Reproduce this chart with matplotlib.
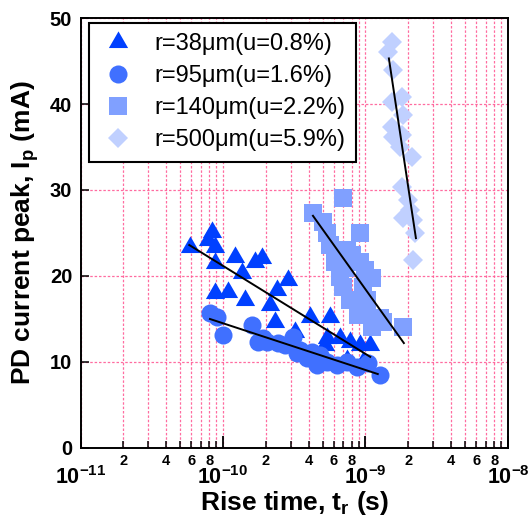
import matplotlib
matplotlib.use('Agg')
import matplotlib.pyplot as plt
import numpy as np
from matplotlib.ticker import FixedLocator, FuncFormatter

plt.rcParams['font.family'] = ['Liberation Sans', 'DejaVu Sans']
plt.rcParams['font.weight'] = 'bold'
plt.rcParams['mathtext.fontset'] = 'custom'
plt.rcParams['mathtext.rm'] = 'Liberation Sans:bold'
plt.rcParams['mathtext.bf'] = 'Liberation Sans:bold'
plt.rcParams['mathtext.it'] = 'Liberation Sans:bold'
plt.rcParams['mathtext.default'] = 'rm'

# ---------------- data ----------------
labels = ['r=38μm(u=0.8%)', 'r=95μm(u=1.6%)', 'r=140μm(u=2.2%)', 'r=500μm(u=5.9%)']
colors = ['#0040ff', '#4070ff', '#80a0ff', '#c0d0ff']

tri_t = [5.87e-11, 8.37e-11, 7.85e-11, 8.79e-11, 8.79e-11, 1.21e-10, 1.36e-10, 1.68e-10,
         1.88e-10, 8.79e-11, 1.08e-10, 1.43e-10, 2.39e-10, 2.86e-10, 2.14e-10, 2.32e-10,
         3.2e-10, 4.08e-10, 5.64e-10, 5.37e-10, 6.62e-10, 7.78e-10, 9.15e-10, 1.08e-9,
         7.41e-10, 9.6e-10, 5.2e-10]
tri_i = [23.4, 25.1, 24.2, 23.4, 21.5, 22.2, 20.3, 21.6,
         22.1, 18.0, 18.1, 17.2, 18.4, 19.5, 16.6, 14.7,
         13.5, 15.2, 15.2, 12.8, 12.8, 12.3, 12.0, 12.0,
         10.2, 10.0, 12.0]

cir_t = [8.1e-11, 9.08e-11, 1.0e-10, 1.6e-10, 1.76e-10, 2.04e-10, 2.43e-10, 3.1e-10,
         3.47e-10, 3.3e-10, 3.88e-10, 4.57e-10, 5.37e-10, 6.31e-10, 7.41e-10, 8.71e-10,
         1.04e-9, 1.26e-9, 2.72e-10, 4.8e-10, 1.9e-10, 4.2e-10]
cir_i = [15.7, 15.2, 13.1, 14.3, 12.3, 12.3, 12.2, 12.9,
         11.4, 11.0, 10.5, 9.7, 10.0, 9.7, 10.0, 9.4,
         9.9, 8.5, 12.0, 10.8, 12.8, 11.2]

sq_t = [4.28e-10, 6.95e-10, 5.03e-10, 5.37e-10, 9.15e-10, 5.64e-10, 7.41e-10, 9.15e-10,
        6.62e-10, 1.11e-9, 6.95e-10, 9.6e-10, 1.03e-9, 8.85e-10, 1.13e-9, 1.33e-9,
        1.11e-9, 1.83e-9, 6.11e-10, 7.18e-10, 8.04e-10, 7.78e-10, 9.9e-10, 9.55e-10,
        1.26e-9]
sq_i = [27.3, 29.1, 26.3, 25.0, 25.0, 23.6, 23.0, 21.6,
        19.9, 19.8, 18.7, 18.7, 17.2, 15.5, 14.9, 14.7,
        14.1, 14.1, 21.6, 20.9, 22.4, 17.2, 20.7, 16.3,
        15.1]

dia_t = [1.53e-9, 1.44e-9, 1.56e-9, 1.8e-9, 1.53e-9, 1.83e-9, 1.53e-9, 1.8e-9,
         1.56e-9, 1.75e-9, 2.12e-9, 1.8e-9, 1.99e-9, 2.05e-9, 2.15e-9, 1.83e-9,
         2.22e-9, 2.15e-9]
dia_i = [47.2, 46.0, 44.0, 40.8, 40.2, 38.7, 37.3, 36.4,
         36.2, 35.0, 33.8, 30.3, 28.8, 27.7, 26.5, 26.7,
         25.0, 21.9]

# fitted trend lines (end points)
fit_tri_t = [5.8e-11, 1.08e-9]
fit_tri_i = [23.6, 10.6]
fit_cir_t = [8.1e-11, 1.22e-9]
fit_cir_i = [15.0, 8.6]
fit_sq_t = [4.28e-10, 1.86e-9]
fit_sq_i = [27.0, 12.2]
fit_dia_t = [1.46e-9, 2.26e-9]
fit_dia_i = [45.3, 24.4]

xlim = (1e-11, 1e-8)
ylim = (0, 50)
yticks = [0, 10, 20, 30, 40, 50]

# ---------------- plot ----------------
fig = plt.figure(figsize=(5.28, 5.22), dpi=100)
ax = fig.add_axes([0.1525, 0.1418, 0.8095, 0.8237])

tri_marker = [(0, 1.155), (-1, -0.577), (1, -0.577), (0, 1.155)]
series = [
    (tri_t, tri_i, tri_marker, 16),
    (cir_t, cir_i, 'o', 13),
    (sq_t, sq_i, 's', 13),
    (dia_t, dia_i, 'D', 10),
]
handles = []
for (t, i, mk, ms), c, lab in zip(series, colors, labels):
    h, = ax.plot(t, i, ls='none', marker=mk, ms=ms, color=c, mec=c, mew=0,
                 label=lab, zorder=3)
    handles.append(h)

for ft, fi in [(fit_tri_t, fit_tri_i), (fit_cir_t, fit_cir_i),
               (fit_sq_t, fit_sq_i), (fit_dia_t, fit_dia_i)]:
    ax.plot(ft, fi, color='black', lw=1.4, zorder=4)

ax.set_xscale('log')
ax.set_xlim(*xlim)
ax.set_ylim(*ylim)
ax.set_yticks(yticks)

decades = [1e-11, 1e-10, 1e-9, 1e-8]
minors = [m * d for d in decades[:-1] for m in range(2, 10)]
ax.xaxis.set_major_locator(FixedLocator(decades))
ax.xaxis.set_minor_locator(FixedLocator(minors))
ax.xaxis.set_major_formatter(FuncFormatter(lambda v, p: r'$10^{%d}$' % round(np.log10(v))))


def minor_fmt(v, p):
    m = int(round(v / 10 ** np.floor(np.log10(v) + 1e-9)))
    return str(m) if m in (2, 4, 6, 8) else ''


ax.xaxis.set_minor_formatter(FuncFormatter(minor_fmt))

ax.tick_params(axis='x', which='major', direction='in', length=9, width=1.3,
               labelsize=15.5, pad=13)
ax.tick_params(axis='x', which='minor', direction='in', length=5, width=1.1,
               labelsize=10.5, pad=4)
ax.tick_params(axis='y', which='major', direction='in', length=6, width=1.1,
               labelsize=14.5, pad=6)

gcol = '#ff5c96'
ax.grid(True, which='both', axis='x', color=gcol, ls=(0, (2, 1.5)), lw=0.9, alpha=0.9)
ax.grid(True, which='major', axis='y', color=gcol, ls=(0, (2, 1.5)), lw=0.9, alpha=0.9)
ax.set_axisbelow(True)

for s in ax.spines.values():
    s.set_linewidth(1.4)
    s.set_color('black')

ax.set_xlabel(r'Rise time, t$_{r}$ (s)', fontsize=19, fontweight='bold', labelpad=0)
ax.set_ylabel(r'PD current peak, I$_{p}$ (mA)', fontsize=19, fontweight='bold', labelpad=6)

leg = ax.legend(handles=handles, loc='upper left', bbox_to_anchor=(0.0206, 0.989),
                borderaxespad=0, prop={'family': 'Liberation Sans', 'weight': 'normal', 'size': 17},
                frameon=True, fancybox=False, framealpha=1, edgecolor='black',
                handlelength=1.5, handletextpad=0.8, labelspacing=0.42,
                borderpad=0.45, markerscale=1.0)
leg.get_frame().set_linewidth(1.5)

fig.savefig('out.png', dpi=100)
